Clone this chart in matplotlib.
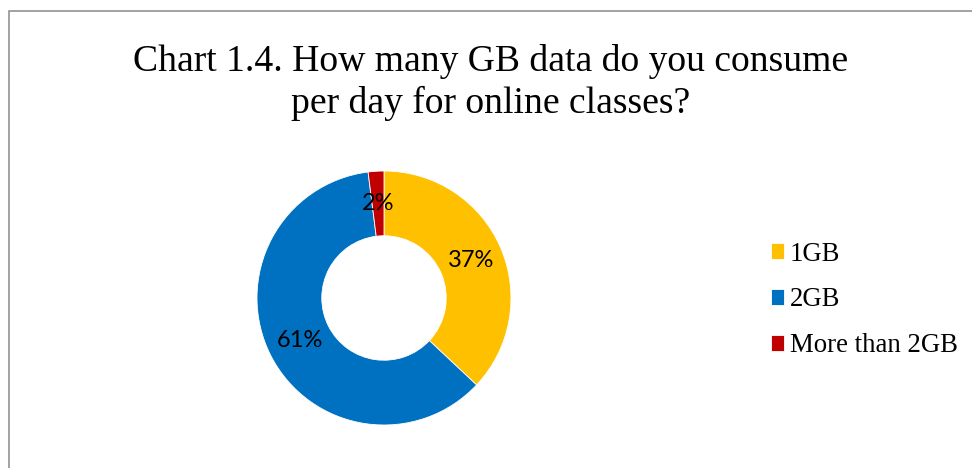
import matplotlib
matplotlib.use("Agg")
import matplotlib.pyplot as plt
from matplotlib.patches import Rectangle

# data
categories = ["1GB", "2GB", "More than 2GB"]
shares = [37, 61, 2]
colors = ["#FFC000", "#0070C0", "#C00000"]
title_lines = ["Chart 1.4. How many GB data do you consume",
               "per day for online classes?"]

W, H = 972, 468
fig = plt.figure(figsize=(W / 100, H / 100), dpi=100)

# outer chart frame (only left and top edges visible in the crop)
fig.patches.append(Rectangle((8.5 / W, -0.1), 1.2, (H - 10.5) / H + 0.1,
                             transform=fig.transFigure, fill=False,
                             edgecolor="#898989", linewidth=1.1))

# title, two centred lines in a serif face
fig.text(491 / W, 1 - 71 / H, title_lines[0], ha="center", va="baseline",
         fontsize=27.1, family="Liberation Serif")
fig.text(491 / W, 1 - 113 / H, title_lines[1], ha="center", va="baseline",
         fontsize=27.1, family="Liberation Serif")

# donut
ax = fig.add_axes([257 / W, 43 / H, 254 / W, 254 / H])
wedges, texts, autotexts = ax.pie(
    shares, colors=colors, startangle=90, counterclock=False, radius=1,
    autopct="%d%%", pctdistance=0.745,
    wedgeprops=dict(width=0.51, edgecolor="white", linewidth=0.6),
    textprops=dict(fontsize=17, family="Lato", color="black"))
ax.set_xlim(-1, 1)
ax.set_ylim(-1, 1)
ax.set_aspect("equal")
ax.axis("off")

fig.legend(wedges, categories, loc="center left",
           bbox_to_anchor=(771 / W, 1 - 300 / H),
           frameon=False, handlelength=0.5, handleheight=0.5,
           handletextpad=0.2, labelspacing=0.78, borderpad=0, borderaxespad=0,
           prop=dict(family="Liberation Serif", size=19.3))

fig.savefig("out.png", dpi=100)
